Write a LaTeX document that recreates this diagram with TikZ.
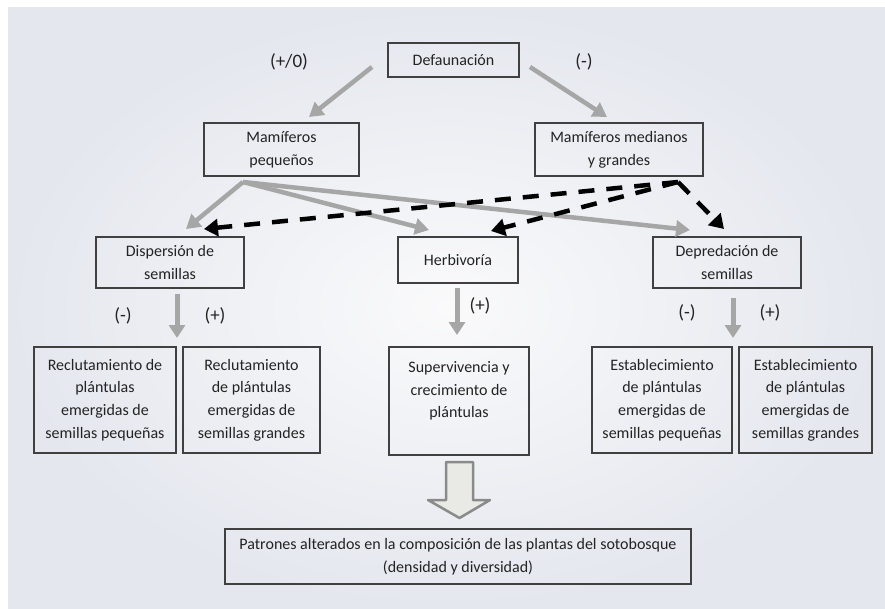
\documentclass[tikz,border=0pt]{standalone}
\usepackage{fontspec}
\setmainfont{Carlito}
\usepackage{tikz}
\usetikzlibrary{arrows.meta}
\usepackage{xcolor}
\definecolor{bgedge}{RGB}{228,231,238}
\definecolor{bgcenter}{RGB}{250,250,251}
\definecolor{arrgray}{RGB}{166,166,166}
\definecolor{boxline}{RGB}{64,64,64}
\definecolor{txtcol}{RGB}{35,35,35}
\definecolor{blockfill}{RGB}{233,233,229}
\definecolor{blockline}{RGB}{138,138,138}

\begin{document}
\begin{tikzpicture}[x=1pt,y=-1pt,
  box/.style={draw=boxline, line width=1.3pt, inner sep=0pt, align=center, text=txtcol, font=\fontsize{16}{22.7}\selectfont},
  sign/.style={text=txtcol, font=\fontsize{19}{22}\selectfont},
  grayarr/.style={draw=arrgray, line width=4.5pt, -{Triangle[length=14pt,width=16pt]}},
  downarr/.style={draw=arrgray, line width=5pt, -{Triangle[length=13pt,width=16pt]}},
  dasharr/.style={draw=black, line width=4.5pt, dash pattern=on 16pt off 12pt, -{Triangle[length=14pt,width=17pt]}}]
  \useasboundingbox (0,0) rectangle (885,608);
  \shade[inner color=bgcenter, outer color=bgedge] (8,7) rectangle (885,608);

  % Nodes
  \node[box, minimum width=131pt, minimum height=34pt] (def) at (453.5,60) {Defaunación};
  \node[box, minimum width=155pt, minimum height=53pt] (peq) at (281.5,149.5) {Mamíferos\\pequeños};
  \node[box, minimum width=168pt, minimum height=53pt] (med) at (619,149.5) {Mamíferos medianos\\y grandes};
  \node[box, minimum width=148pt, minimum height=51pt] (disp) at (170,262.5) {Dispersión de\\semillas};
  \node[box, minimum width=120pt, minimum height=46pt] (herb) at (458,260) {Herbivoría};
  \node[box, minimum width=148pt, minimum height=51pt] (depr) at (727,262.5) {Depredación de\\semillas};
  \node[box, minimum width=142pt, minimum height=106pt] (rec1) at (105,400) {Reclutamiento de\\plántulas\\emergidas de\\semillas pequeñas};
  \node[box, minimum width=137pt, minimum height=106pt] (rec2) at (251.5,400) {Reclutamiento\\de plántulas\\emergidas de\\semillas grandes};
  \node[box, minimum width=140pt, minimum height=108pt] (sup) at (459,401) {Supervivencia y\\crecimiento de\\plántulas\\\mbox{}};
  \node[box, minimum width=140pt, minimum height=106pt] (est1) at (662,400) {Establecimiento\\de plántulas\\emergidas de\\semillas pequeñas};
  \node[box, minimum width=133pt, minimum height=106pt] (est2) at (805.5,400) {Establecimiento\\de plántulas\\emergidas de\\semillas grandes};
  \node[box, minimum width=466pt, minimum height=55pt] (pat) at (458,556.5) {Patrones alterados en la composición de las plantas del sotobosque\\(densidad y diversidad)};

  % Arrow ends
  \coordinate (defL) at (372,67);
  \coordinate (defR) at (530,67);
  \coordinate (peqT) at (309,117);
  \coordinate (medT) at (607,117);
  \coordinate (peqB) at (243,182);
  \coordinate (medB) at (678,182);
  \coordinate (dispTL) at (186,229);
  \coordinate (dispTR) at (204,229);
  \coordinate (herbTL) at (429,230);
  \coordinate (herbTR) at (491,231);
  \coordinate (deprTL) at (690,230);
  \coordinate (deprTR) at (724,229);

  % Defaunation effects
  \draw[grayarr] (defL) -- (peqT);
  \draw[grayarr] (defR) -- (medT);
  \node[sign] (s1) at (289,62) {(+/0)};
  \node[sign] (s2) at (584,62) {(-)};

  % Small mammals (gray) and large mammals (dashed)
  \draw[grayarr] (peqB) -- (dispTL);
  \draw[grayarr] (peqB) -- (herbTL);
  \draw[grayarr] (peqB) -- (deprTL);
  \draw[dasharr] (medB) -- (dispTR);
  \draw[dasharr] (medB) -- (herbTR);
  \draw[dasharr] (medB) -- (deprTR);

  % Downward effects
  \draw[downarr] (disp.south -| 177,0) ++(0,5) coordinate (d1) -- (177,338);
  \draw[downarr] (herb.south -| 457,0) ++(0,4) coordinate (h1) -- (457,335);
  \draw[downarr] (depr.south -| 733,0) ++(0,9) coordinate (p1) -- (733,338);
  \node[sign] (s3) at (123,316) {(-)};
  \node[sign] (s4) at (215,316) {(+)};
  \node[sign] (s5) at (480,306) {(+)};
  \node[sign] (s6) at (687,313) {(-)};
  \node[sign] (s7) at (770,313) {(+)};

  % Block arrow
  \draw[fill=blockfill, draw=blockline, line width=2.5pt, line join=round]
    (446,462) -- (473,462) -- (473,500) -- (490,500) -- (459.5,518) -- (428,500) -- (446,500) -- cycle;
\end{tikzpicture}
\end{document}
